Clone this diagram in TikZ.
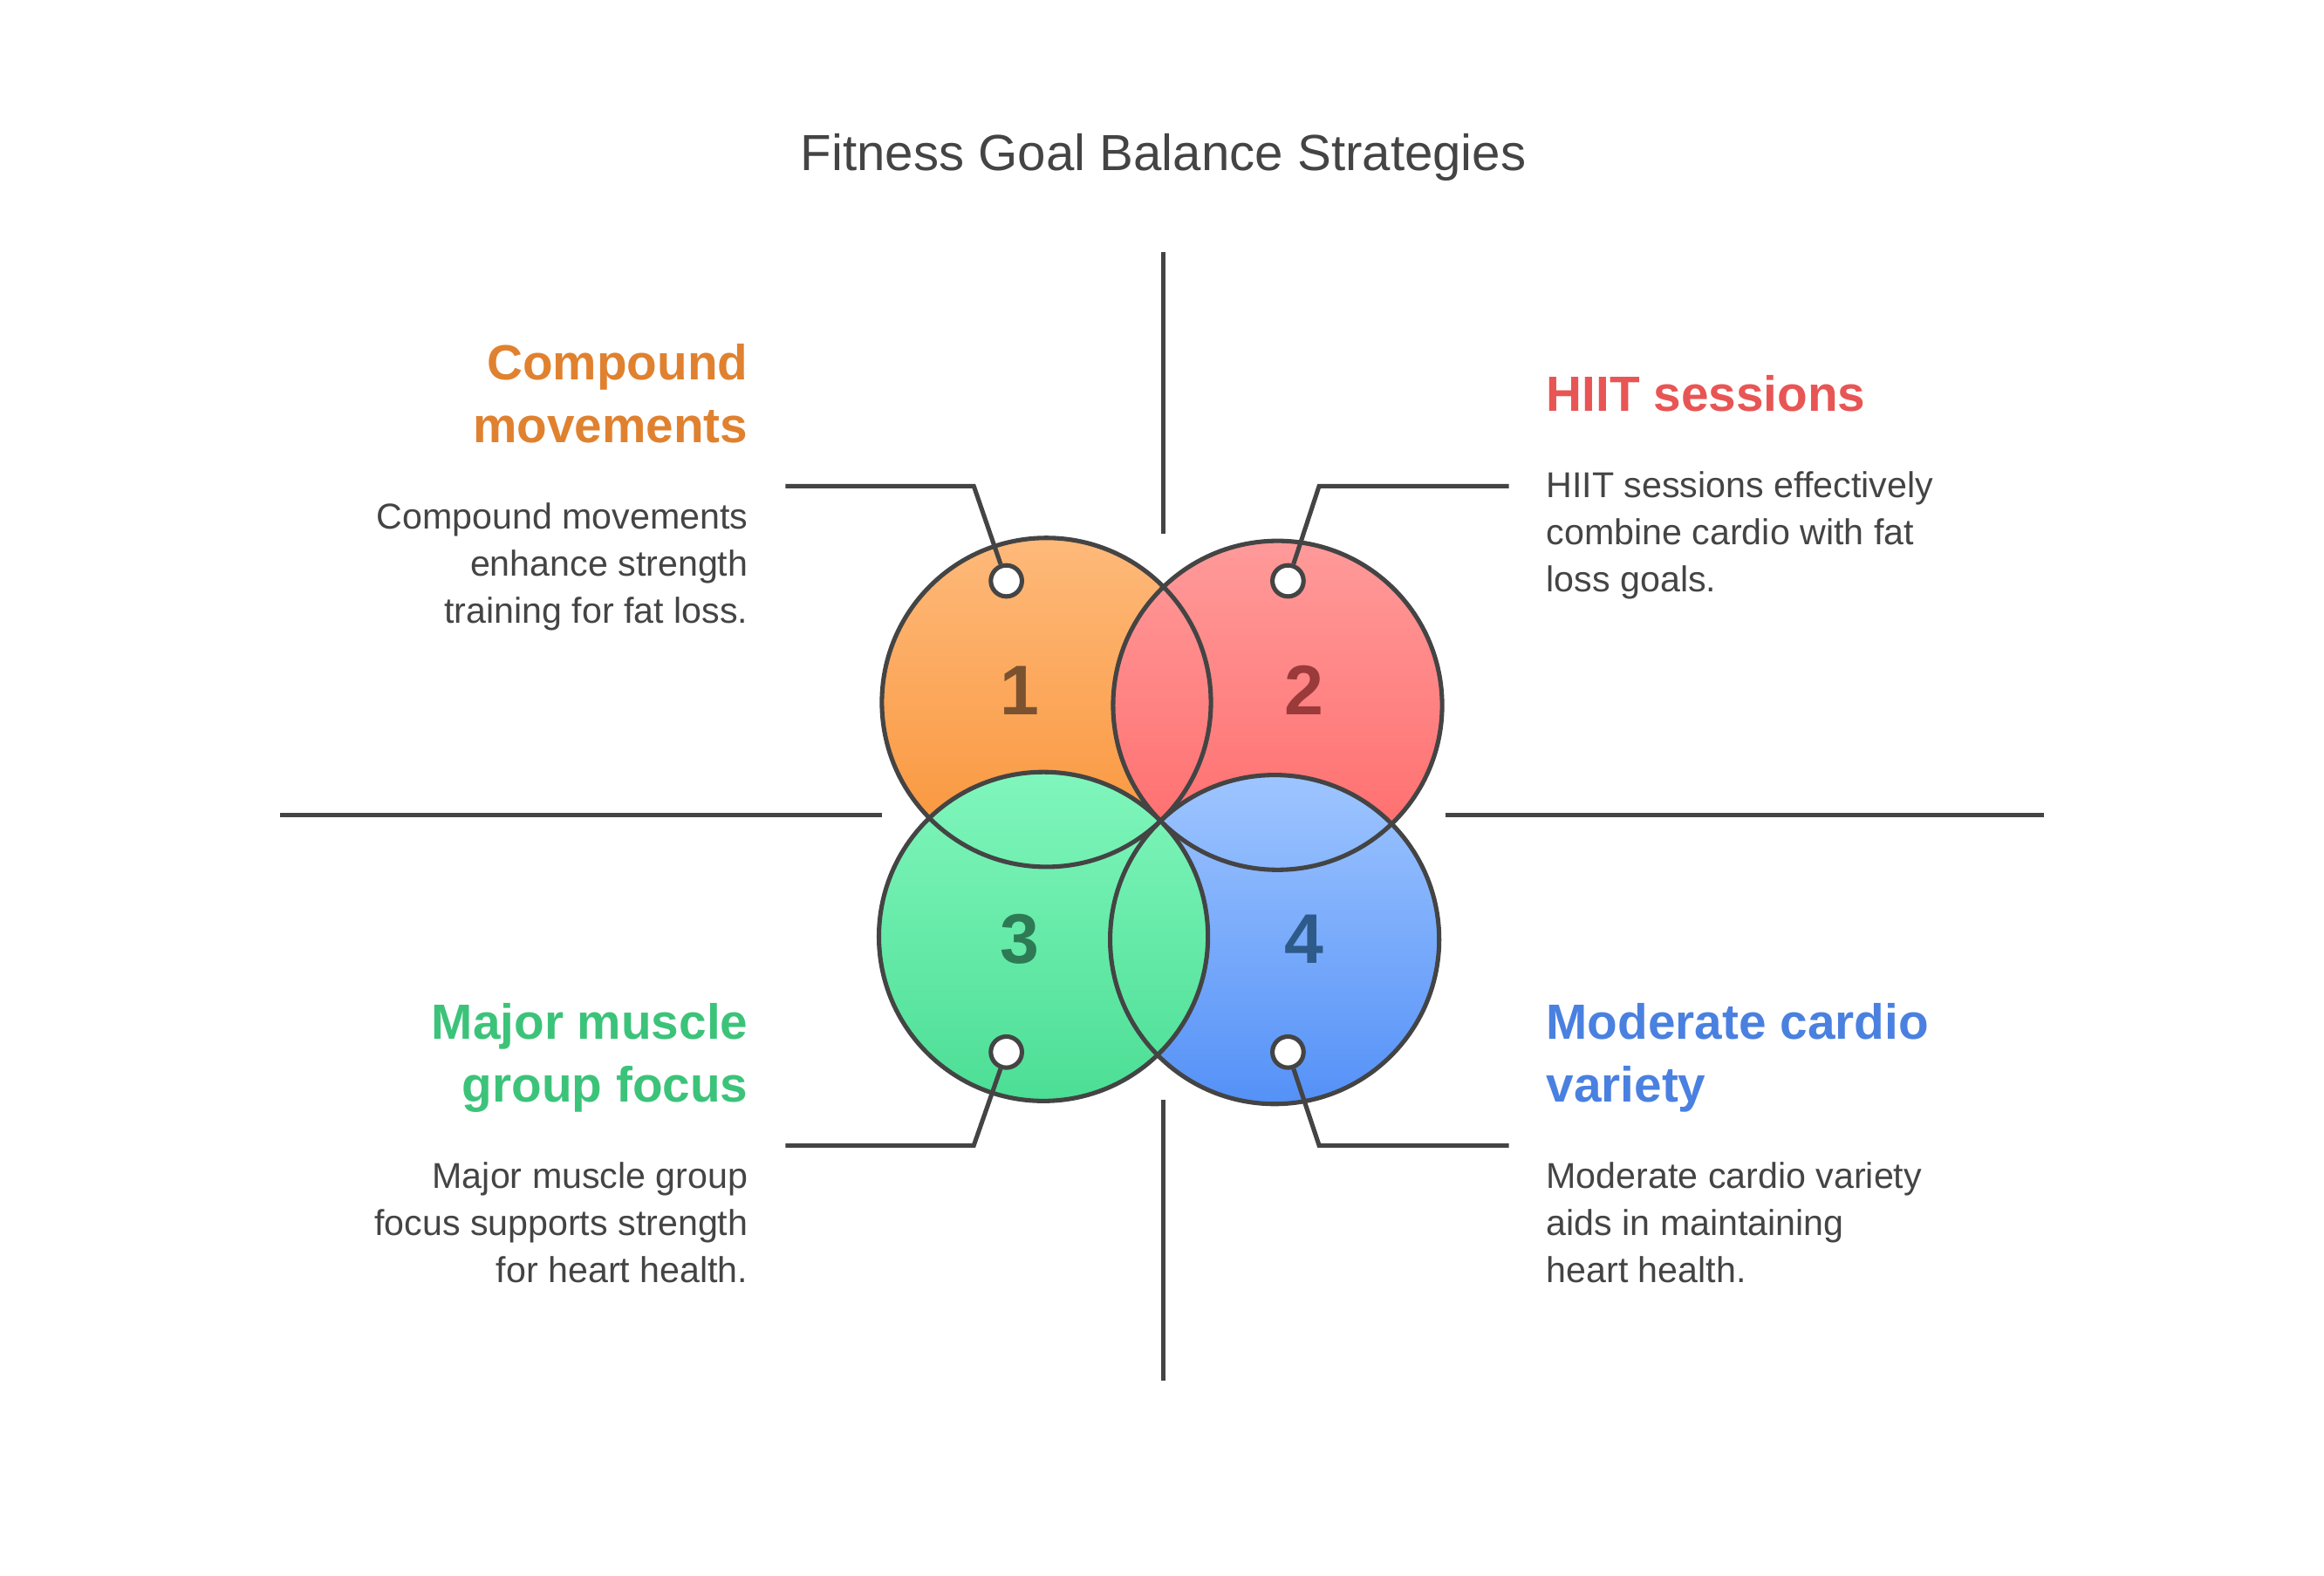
\documentclass[tikz,border=0pt]{standalone}
\usepackage{fontspec}
\setmainfont{Liberation Sans}
\usetikzlibrary{positioning}
\definecolor{txt}{HTML}{444444}
\definecolor{hOne}{HTML}{E0812F}
\definecolor{hTwo}{HTML}{E85555}
\definecolor{hThree}{HTML}{3CC37A}
\definecolor{hFour}{HTML}{4A80E0}
\tikzset{
  ring/.style={circle,minimum size=4.44cm,inner sep=0},
  num/.style={font=\fontsize{27}{27}\selectfont\bfseries},
  rule/.style={draw=txt,line width=1.7pt},
  dot/.style={circle,draw=txt,line width=1.7pt,fill=white,minimum size=0.42cm,inner sep=0},
  head/.style={inner sep=0,font=\fontsize{19}{24}\selectfont\bfseries},
  body/.style={inner sep=0,text=txt,font=\fontsize{13.8}{18.1}\selectfont}
}
\begin{document}
\begin{tikzpicture}[x=0.02cm,y=-0.02cm]
      \useasboundingbox (0,0) rectangle (1568,1063);
      \node[text=txt,font=\fontsize{19.5}{22}\selectfont] (title) at (785,106) {Fitness Goal Balance Strategies};
      % axes
      \draw[rule] (785,170) coordinate (t1) -- (785,360) coordinate (t2);
      \draw[rule] (785,742) coordinate (d1) -- (785,932) coordinate (d2);
      \draw[rule] (189,550) coordinate (l1) -- (595,550) coordinate (l2);
      \draw[rule] (975,550) coordinate (r1) -- (1379,550) coordinate (r2);
      % circles
      \node[ring,top color={rgb,255:red,254;green,185;blue,122},bottom color={rgb,255:red,249;green,148;blue,56}] (c1) at (706,474) {};
      \node[ring,top color={rgb,255:red,255;green,154;blue,154},bottom color={rgb,255:red,255;green,106;blue,106}] (c2) at (862,476) {};
      \node[ring,top color={rgb,255:red,158;green,197;blue,255},bottom color={rgb,255:red,84;green,145;blue,247}] (c4) at (860,634) {};
      \node[ring,top color={rgb,255:red,128;green,246;blue,188},bottom color={rgb,255:red,76;green,222;blue,149}] (c3) at (704,632) {};
      \foreach\i in {1,...,4} { \draw[rule] (c\i.center) circle (111); }
      \node[num,text={rgb,255:red,122;green,82;blue,48}] at (688,466) {1};
      \node[num,text={rgb,255:red,154;green,58;blue,58}] at (880,466) {2};
      \node[num,text={rgb,255:red,46;green,122;blue,85}] at (688,634) {3};
      \node[num,text={rgb,255:red,46;green,90;blue,138}] at (880,634) {4};
      % leaders
      \node[dot] (p1) at (679,392) {};
      \node[dot] (p2) at (869,392) {};
      \node[dot] (p3) at (679,710) {};
      \node[dot] (p4) at (869,710) {};
      \draw[rule] (p1) -- (657,328) -- (530,328) coordinate (e1);
      \draw[rule] (p2) -- (890,328) -- (1018,328) coordinate (e2);
      \draw[rule] (p3) -- (657,773) -- (530,773) coordinate (e3);
      \draw[rule] (p4) -- (890,773) -- (1018,773) coordinate (e4);
      % texts
      \node[head,text=hOne,align=right,anchor=north east] (h1) at (505,232) {Compound\\movements};
      \node[body,align=right,anchor=north east] (b1) at (505,339) {Compound movements\\enhance strength\\training for fat loss.};
      \node[head,text=hTwo,align=left,anchor=north west] (h2) at (1043,253) {HIIT sessions};
      \node[body,align=left,anchor=north west] (b2) at (1043,318) {HIIT sessions effectively\\combine cardio with fat\\loss goals.};
      \node[head,text=hThree,align=right,anchor=north east] (h3) at (505,677) {Major muscle\\group focus};
      \node[body,align=right,anchor=north east] (b3) at (505,784) {Major muscle group\\focus supports strength\\for heart health.};
      \node[head,text=hFour,align=left,anchor=north west] (h4) at (1043,677) {Moderate cardio\\variety};
      \node[body,align=left,anchor=north west] (b4) at (1043,784) {Moderate cardio variety\\aids in maintaining\\heart health.};
\end{tikzpicture}
\end{document}
